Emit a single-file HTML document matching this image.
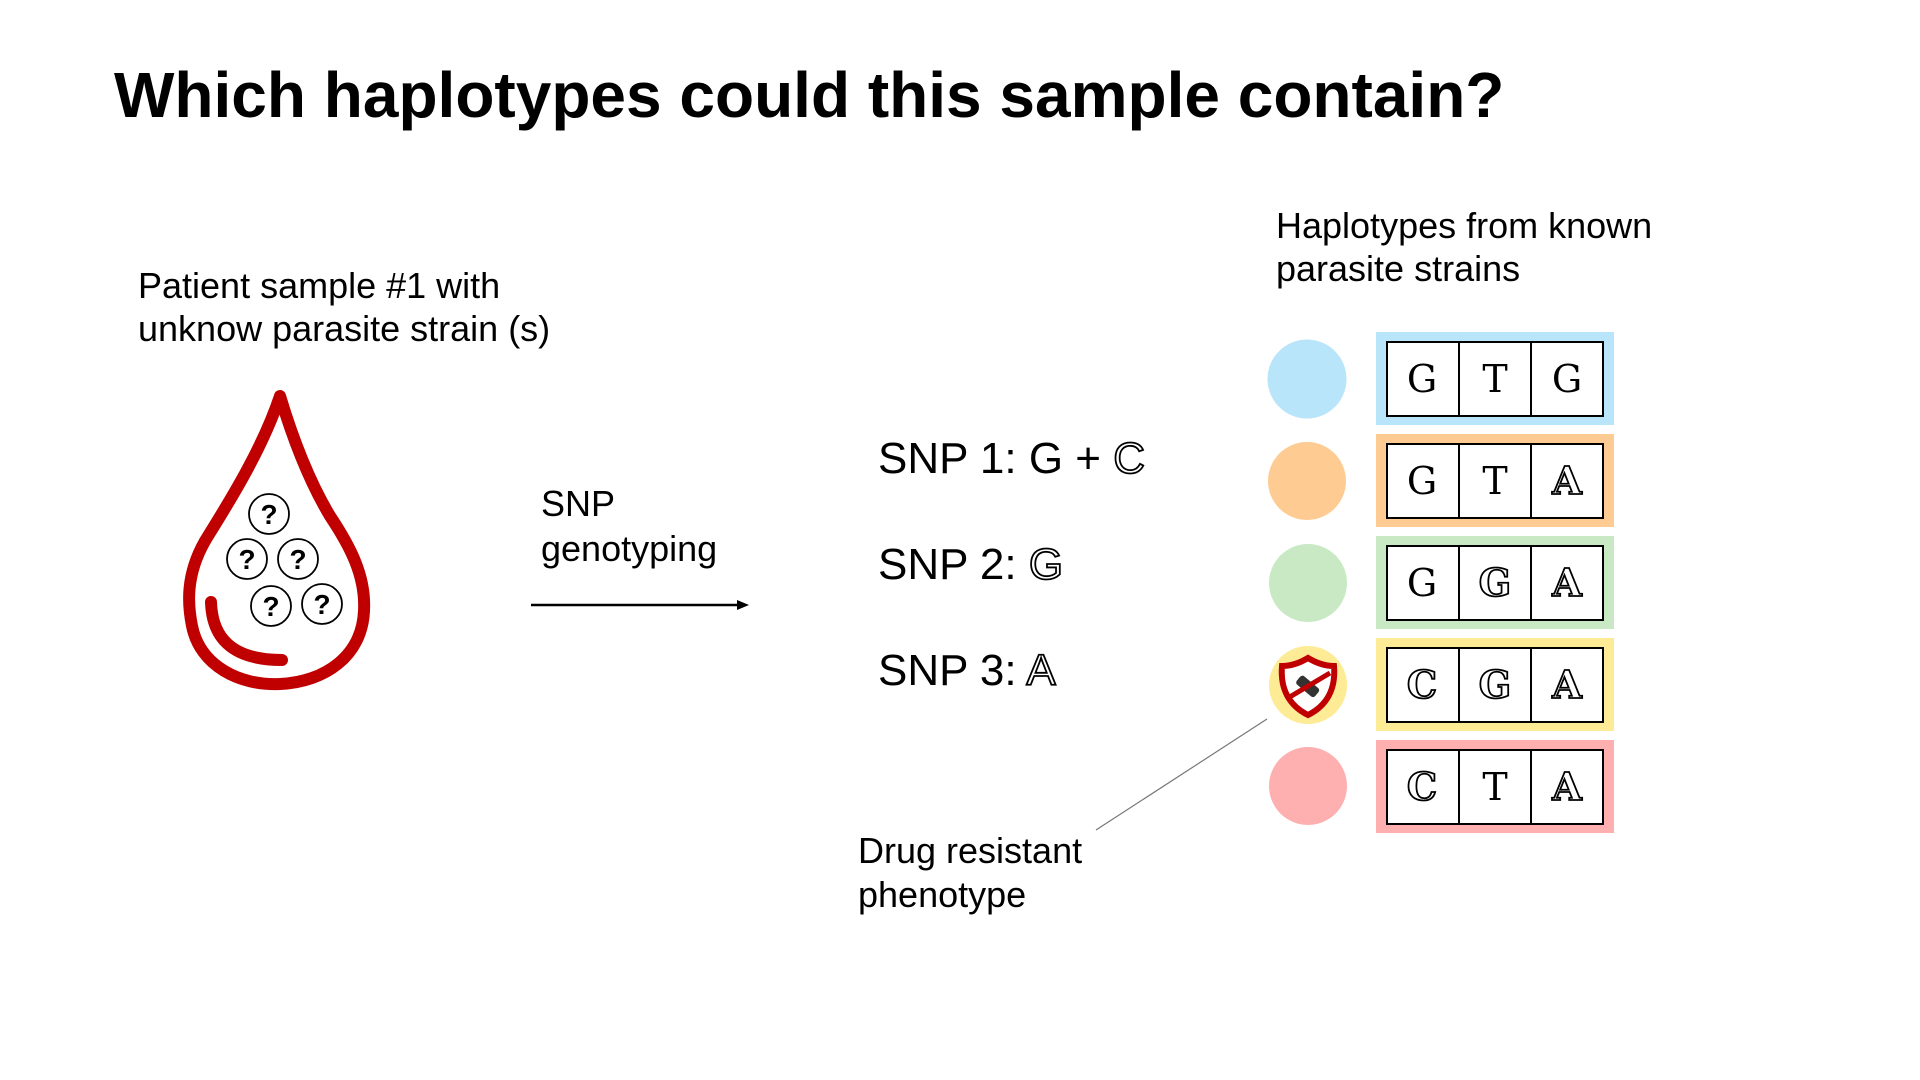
<!DOCTYPE html>
<html><head><meta charset="utf-8"><style>
body{margin:0;width:1920px;height:1080px;background:#fff;position:relative;overflow:hidden;font-family:"Liberation Sans",sans-serif;color:#000}
.t{position:absolute;white-space:nowrap}
.o{color:#fff;-webkit-text-stroke:1.8px #000}
.cell{position:absolute;width:72px;height:76px;display:flex;align-items:center;justify-content:center;font-family:"DejaVu Serif",serif;font-size:38px;box-sizing:border-box}
.cell.o{font-weight:bold}
</style></head><body>
<div class="t" style="left:114px;top:58px;font-size:64px;font-weight:bold">Which haplotypes could this sample contain?</div>
<div class="t" style="left:138px;top:264px;font-size:36px;line-height:43px">Patient sample #1 with<br>unknow parasite strain (s)</div>
<div class="t" style="left:541px;top:481px;font-size:36px;line-height:45px">SNP<br>genotyping</div>
<div class="t" style="left:878px;top:434px;font-size:44px">SNP 1: G + <span class="o">C</span></div>
<div class="t" style="left:878px;top:540px;font-size:44px">SNP 2: <span class="o">G</span></div>
<div class="t" style="left:878px;top:646px;font-size:44px">SNP 3: <span class="o">A</span></div>
<div class="t" style="left:1276px;top:204px;font-size:36px;line-height:43px">Haplotypes from known<br>parasite strains</div>
<div class="t" style="left:858px;top:829px;font-size:36px;line-height:44px">Drug resistant<br>phenotype</div>
<svg width="1920" height="1080" style="position:absolute;left:0;top:0">
<g transform="translate(0,-4)">
<g fill="none" stroke="#c00000" stroke-width="12" stroke-linecap="round" stroke-linejoin="round">
<path d="M280,400 C260,460 220,520 205,545 C185,580 188,610 192,630 C200,670 240,690 280,688 C325,686 362,660 364,615 C366,580 350,550 330,520 C312,490 295,450 280,400 Z"/>
<path d="M211,606 C212,640 230,664 282,664"/>
</g>
<g fill="none" stroke="#000" stroke-width="1.8">
<circle cx="269" cy="518" r="20"/><circle cx="247" cy="563" r="20"/><circle cx="298" cy="563" r="20"/><circle cx="271" cy="610" r="20"/><circle cx="322" cy="608" r="20"/>
</g>
<g font-family="Liberation Sans" font-size="28" text-anchor="middle" font-weight="bold">
<text x="269" y="528">?</text><text x="247" y="573">?</text><text x="298" y="573">?</text><text x="271" y="620">?</text><text x="322" y="618">?</text>
</g>
</g>
<g>
<line x1="531" y1="605" x2="738" y2="605" stroke="#000" stroke-width="2.5"/>
<polygon points="749,605 737,600 737,610" fill="#000"/>
</g>
<line x1="1096" y1="830" x2="1267" y2="719" stroke="#777" stroke-width="1.2"/>
<circle cx="1307" cy="379" r="39.5" fill="#b9e5fb"/>
<circle cx="1307" cy="481" r="39" fill="#fecb93"/>
<circle cx="1308" cy="583" r="39" fill="#c8e9c4"/>
<circle cx="1308" cy="685" r="39" fill="#feeb96"/>
<g transform="translate(0,18)">
<path d="M1308,640 C1298,646 1290,648 1282,648 C1280,672 1290,688 1308,697 C1326,688 1336,672 1334,648 C1326,648 1318,646 1308,640 Z" fill="#fff" stroke="#c00000" stroke-width="6"/>
<rect x="1296" y="663" width="24" height="11" rx="3" fill="#333" transform="rotate(40 1308 668)"/>
<line x1="1288" y1="680" x2="1330" y2="655" stroke="#c00000" stroke-width="5"/>
</g>
<circle cx="1308" cy="786" r="39" fill="#feb0b0"/>
</svg>
<div id="hap"></div>
<script>
const rows=[["G","T","G"],["G","T","A"],["G","G","A"],["C","G","A"],["C","T","A"]];
const outlined=[[0,0,0],[0,0,1],[0,1,1],[1,1,1],[1,0,1]];
const colors=["#b9e5fb","#fecb93","#c8e9c4","#feeb96","#feb0b0"];
const hap=document.getElementById('hap');
rows.forEach((r,i)=>{
  const top=332+i*102;
  const bg=document.createElement('div');
  
  
  bg.style.cssText=`position:absolute;left:1376px;top:${top}px;width:238px;height:93px;background:${colors[i]}`;
  hap.appendChild(bg);
  const box=document.createElement('div');
  box.style.cssText=`position:absolute;left:10px;top:9px;width:218px;height:76px;background:#fff;border:2.5px solid #000;box-sizing:border-box`;
  bg.appendChild(box);
  r.forEach((c,j)=>{
    const cell=document.createElement('div');
    
    
    cell.className='cell'+(outlined[i][j]?' o':'');
    cell.style.left=(j*72-2)+'px';cell.style.top='-2.5px';
    if(j>0)cell.style.borderLeft='2.5px solid #000';
    cell.textContent=c;
    box.appendChild(cell);
  });
});
</script>
</body></html>
